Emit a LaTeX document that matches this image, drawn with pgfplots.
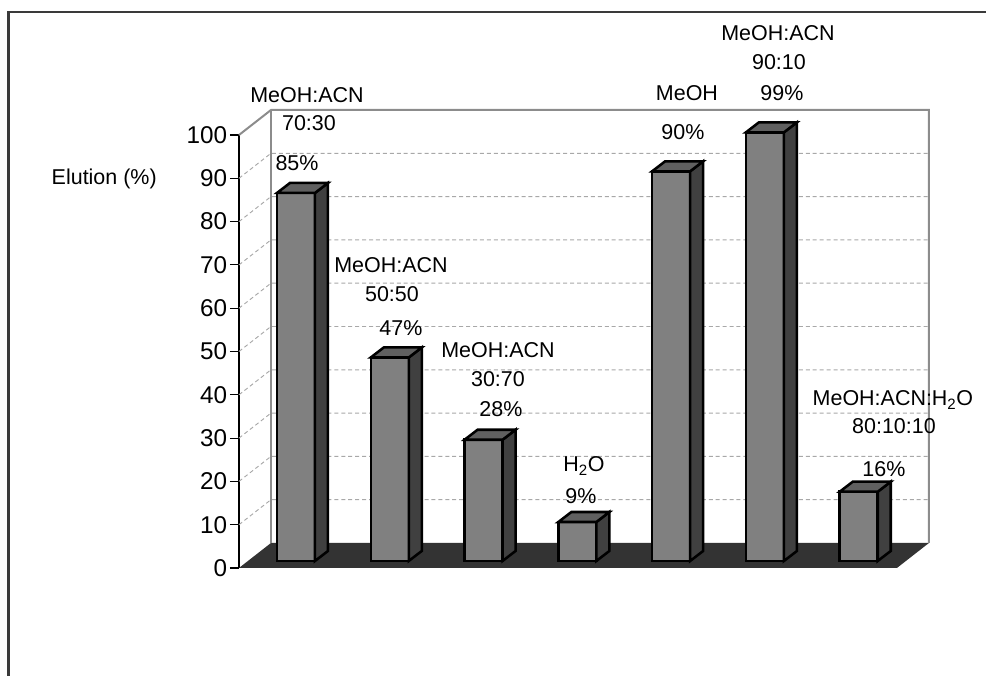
\documentclass[border=0pt]{standalone}
\usepackage{fontspec}
\setmainfont{Liberation Sans}
\usepackage{pgfplots}
\usepackage{pgfplotstable}
\pgfplotsset{compat=1.18}

\definecolor{frontgray}{HTML}{808080}
\definecolor{sidegray}{HTML}{404040}
\definecolor{topgray}{HTML}{606060}
\definecolor{floorgray}{HTML}{333333}
\definecolor{wallgray}{HTML}{8C8C8C}
\definecolor{gridgray}{HTML}{A8A8A8}
\definecolor{framegray}{HTML}{3A3A3A}

\tikzset{
  barface/.style={draw=black, line width=1.9pt},
  lbl/.style={font=\fontsize{16.1}{18}\selectfont, text=black, inner sep=0pt},
}

% Elution per solvent (%)
\pgfplotstableread{
idx value
0 85
1 47
2 28
3 9
4 90
5 99
6 16
}\elution

% oblique depth: walls and bars (x in px units, y in % units)
\def\wx{32}\def\wy{5.774}
\def\sx{13}\def\sy{2.309}
\def\base{1.617}

\begin{document}
\begin{tikzpicture}
\begin{axis}[
  x=0.75pt, y=3.2475pt,
  xmin=239, xmax=929, ymin=0, ymax=100,
  clip=false,
  axis x line=none,
  axis y line*=left,
  y axis line style={black, line width=0.8pt},
  ytick={0,10,...,100},
  tick align=outside,
  major tick length=6.75pt,
  ytick style={black, line width=0.8pt},
  /pgf/number format/assume math mode=true,
  yticklabel style={font=\fontsize{18.2}{20}\selectfont, text=black, inner xsep=2pt},
]
% picture area and outer frame
\path (axis cs:0,-25.17) rectangle (axis cs:987,131.18);
\addplot[framegray, line width=1.6pt] coordinates {(8.5,-24.9) (8.5,128.41) (986,128.41)};

% floor
\addplot[fill=floorgray, draw=none] coordinates {(239,0) (897,0) (929,5.774) (271,5.774)} --cycle;

% grid lines on side and back walls
\pgfplotsinvokeforeach{10,20,30,40,50,60,70,80,90}{
  \pgfmathsetmacro\gy{#1+\wy}
  \edef\drawgrid{%
    \noexpand\addplot[gridgray, line width=0.7pt, dash pattern=on 3pt off 2.2pt]
      coordinates {(239,#1) (271,\gy) (929,\gy)};
  }
  \drawgrid
}

% back wall edges
\addplot[wallgray, line width=1.5pt] coordinates {(239,100) (271,105.774) (929,105.774) (929,5.774)};
\addplot[wallgray, line width=1.5pt] coordinates {(271,5.774) (271,105.774)};

% bars: front, side and top faces
\pgfplotsinvokeforeach{0,1,2,3,4,5,6}{
  \pgfplotstablegetelem{#1}{value}\of\elution
  \pgfmathsetmacro\yt{\pgfplotsretval+\base}
  \pgfmathsetmacro\ytb{\yt+\sy}
  \pgfmathsetmacro\ybb{\base+\sy}
  \pgfmathsetmacro\xl{277+93.8*#1}
  \pgfmathsetmacro\xr{\xl+38}
  \pgfmathsetmacro\xlb{\xl+\sx}
  \pgfmathsetmacro\xrb{\xr+\sx}
  \edef\drawbar{%
    \noexpand\addplot[barface, fill=frontgray] coordinates {(\xl,\base) (\xr,\base) (\xr,\yt) (\xl,\yt)} --cycle;
    \noexpand\addplot[barface, fill=sidegray] coordinates {(\xr,\base) (\xrb,\ybb) (\xrb,\ytb) (\xr,\yt)} --cycle;
    \noexpand\addplot[barface, fill=topgray] coordinates {(\xl,\yt) (\xr,\yt) (\xrb,\ytb) (\xlb,\ytb)} --cycle;
  }
  \drawbar
}

% axis title
\node[lbl, anchor=base east] at (axis cs:157,88.68) {Elution (\%)};

% bar labels
\node[lbl, anchor=base] at (axis cs:307,107.39) {MeOH:ACN};
\node[lbl, anchor=base] at (axis cs:309,101.15) {70:30};
\node[lbl, anchor=base] at (axis cs:297,91.69) {85\%};

\node[lbl, anchor=base] at (axis cs:391,68.13) {MeOH:ACN};
\node[lbl, anchor=base] at (axis cs:392,61.43) {50:50};
\node[lbl, anchor=base] at (axis cs:401,53.58) {47\%};

\node[lbl, anchor=base] at (axis cs:498,48.50) {MeOH:ACN};
\node[lbl, anchor=base] at (axis cs:498,41.80) {30:70};
\node[lbl, anchor=base] at (axis cs:501,34.87) {28\%};

\node[lbl, anchor=base] at (axis cs:584,22.17) {H\textsubscript{2}O};
\node[lbl, anchor=base] at (axis cs:581,14.78) {9\%};

\node[lbl, anchor=base] at (axis cs:687,108.08) {MeOH};
\node[lbl, anchor=base] at (axis cs:683,98.85) {90\%};

\node[lbl, anchor=base] at (axis cs:778,121.71) {MeOH:ACN};
\node[lbl, anchor=base] at (axis cs:779,115.24) {90:10};
\node[lbl, anchor=base] at (axis cs:782,108.08) {99\%};

\node[lbl, anchor=base] at (axis cs:893,37.41) {MeOH:ACN:H\textsubscript{2}O};
\node[lbl, anchor=base] at (axis cs:894,30.95) {80:10:10};
\node[lbl, anchor=base] at (axis cs:884,21.02) {16\%};
\end{axis}
\end{tikzpicture}
\end{document}
